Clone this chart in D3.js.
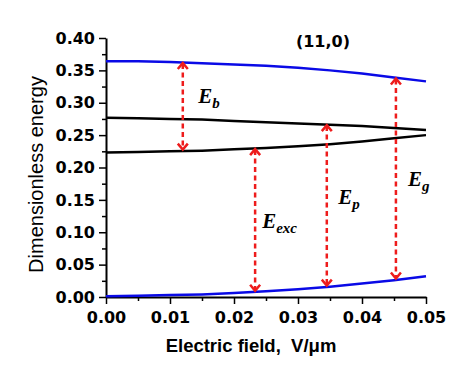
<!DOCTYPE html>
<html>
<head>
<meta charset="utf-8">
<script src="https://cdn.jsdelivr.net/npm/d3@7"></script>
<style>
  body { margin: 0; background: #fff; }
  svg { display: block; }
</style>
</head>
<body>
<div id="chart"></div>
<script>
// data
const field = [0, 0.005, 0.01, 0.015, 0.02, 0.025, 0.03, 0.035, 0.04, 0.045, 0.05];
const upperBlue  = [0.364, 0.364, 0.363, 0.361, 0.359, 0.357, 0.354, 0.350, 0.345, 0.339, 0.333];
const upperBlack = [0.277, 0.276, 0.275, 0.274, 0.272, 0.270, 0.268, 0.266, 0.264, 0.261, 0.258];
const lowerBlack = [0.223, 0.224, 0.225, 0.226, 0.228, 0.230, 0.233, 0.236, 0.240, 0.245, 0.250];
const lowerBlue  = [0.001, 0.002, 0.003, 0.004, 0.006, 0.009, 0.012, 0.016, 0.021, 0.026, 0.032];

const arrowNames = ["b", "exc", "p", "g"];
const arrowX  = [0.012, 0.0233, 0.0345, 0.0453];
const arrowLo = [0.226, 0.008, 0.016, 0.027];
const arrowHi = [0.363, 0.230, 0.267, 0.339];
const labelX  = [0.0144, 0.0244, 0.0363, 0.0472];
const labelY  = [0.300, 0.107, 0.144, 0.172];

const xTicks = [0, 0.01, 0.02, 0.03, 0.04, 0.05];
const yTicks = [0, 0.05, 0.10, 0.15, 0.20, 0.25, 0.30, 0.35, 0.40];
const title = "(11,0)";

const W = 471, H = 387;
const margin = {top: 38, right: 45, bottom: 90, left: 106};
const width = W - margin.left - margin.right;
const height = H - margin.top - margin.bottom;

const svg = d3.select("#chart").append("svg")
    .attr("width", W)
    .attr("height", H);
const g = svg.append("g")
    .attr("transform", `translate(${margin.left},${margin.top})`);

const x = d3.scaleLinear().domain([0, 0.05]).range([0, width]);
const y = d3.scaleLinear().domain([0, 0.40]).range([height, 0]);

const sans = "'DejaVu Sans', Verdana, sans-serif";
const arial = "'Liberation Sans', Arial, sans-serif";

// minor ticks
g.append("g").attr("transform", `translate(0,${height})`)
    .call(d3.axisBottom(x).tickValues(d3.range(0.005, 0.05, 0.01)).tickSize(4).tickFormat(""))
    .call(a => a.select(".domain").remove())
    .selectAll("line").attr("stroke-width", 1.5);
g.append("g")
    .call(d3.axisLeft(y).tickValues(d3.range(0.025, 0.4, 0.05)).tickSize(4).tickFormat(""))
    .call(a => a.select(".domain").remove())
    .selectAll("line").attr("stroke-width", 1.5);

// major axes
const xAxis = g.append("g").attr("transform", `translate(0,${height})`)
    .call(d3.axisBottom(x).tickValues(xTicks).tickSize(7).tickSizeOuter(0).tickPadding(8).tickFormat(d3.format(".2f")));
const yAxis = g.append("g")
    .call(d3.axisLeft(y).tickValues(yTicks).tickSize(7).tickSizeOuter(0).tickPadding(4).tickFormat(d3.format(".2f")));
[xAxis, yAxis].forEach(a => {
  a.select(".domain").attr("stroke-width", 2);
  a.selectAll("line").attr("stroke-width", 1.5);
  a.selectAll("text").attr("font-family", sans).attr("font-size", 16).attr("font-weight", "bold").attr("fill", "#000");
});

// curves
const line = arr => d3.line().x((d, i) => x(field[i])).y(d => y(d))(arr);
[[upperBlue, "#0a0ae6"], [upperBlack, "#000"], [lowerBlack, "#000"], [lowerBlue, "#0a0ae6"]].forEach(([arr, c]) => {
  g.append("path")
      .attr("d", line(arr))
      .attr("fill", "none")
      .attr("stroke", c)
      .attr("stroke-width", 2.5);
});

// double arrows
const red = "#ee1c1c";
arrowX.forEach((ax, i) => {
  const px = x(ax), y0 = y(arrowLo[i]), y1 = y(arrowHi[i]);
  g.append("line")
      .attr("x1", px).attr("x2", px)
      .attr("y1", y1 + 2).attr("y2", y0 - 2)
      .attr("stroke", red)
      .attr("stroke-width", 2.5)
      .attr("stroke-dasharray", "5,3.5");
  const hw = 5, hh = 7;
  g.append("path")
      .attr("d", `M${px - hw},${y1 + hh}L${px},${y1 + 1}L${px + hw},${y1 + hh}`)
      .attr("fill", "none").attr("stroke", red).attr("stroke-width", 2.5);
  g.append("path")
      .attr("d", `M${px - hw},${y0 - hh}L${px},${y0 - 1}L${px + hw},${y0 - hh}`)
      .attr("fill", "none").attr("stroke", red).attr("stroke-width", 2.5);

  const t = g.append("text")
      .attr("x", x(labelX[i]))
      .attr("y", y(labelY[i]))
      .attr("font-family", "'Liberation Serif', 'Times New Roman', serif")
      .attr("font-style", "italic")
      .attr("font-weight", "bold")
      .attr("font-size", 21)
      .attr("fill", "#000");
  t.append("tspan").text("E");
  t.append("tspan").attr("dy", 5).attr("font-size", 15).text(arrowNames[i]);
});

// title
g.append("text")
    .attr("x", x(0.0339))
    .attr("y", 9)
    .attr("text-anchor", "middle")
    .attr("font-family", sans)
    .attr("font-weight", "bold")
    .attr("font-size", 16)
    .text(title);

// axis titles
svg.append("text")
    .attr("x", 251)
    .attr("y", 351.5)
    .attr("text-anchor", "middle")
    .attr("font-family", arial)
    .attr("font-weight", "bold")
    .attr("font-size", 18.5)
    .attr("xml:space", "preserve")
    .text("Electric field,  V/\u03bcm");

svg.append("text")
    .attr("transform", "translate(43,174.5) rotate(-90)")
    .attr("text-anchor", "middle")
    .attr("font-family", arial)
    .attr("font-size", 20)
    .text("Dimensionless energy");
</script>
</body>
</html>
